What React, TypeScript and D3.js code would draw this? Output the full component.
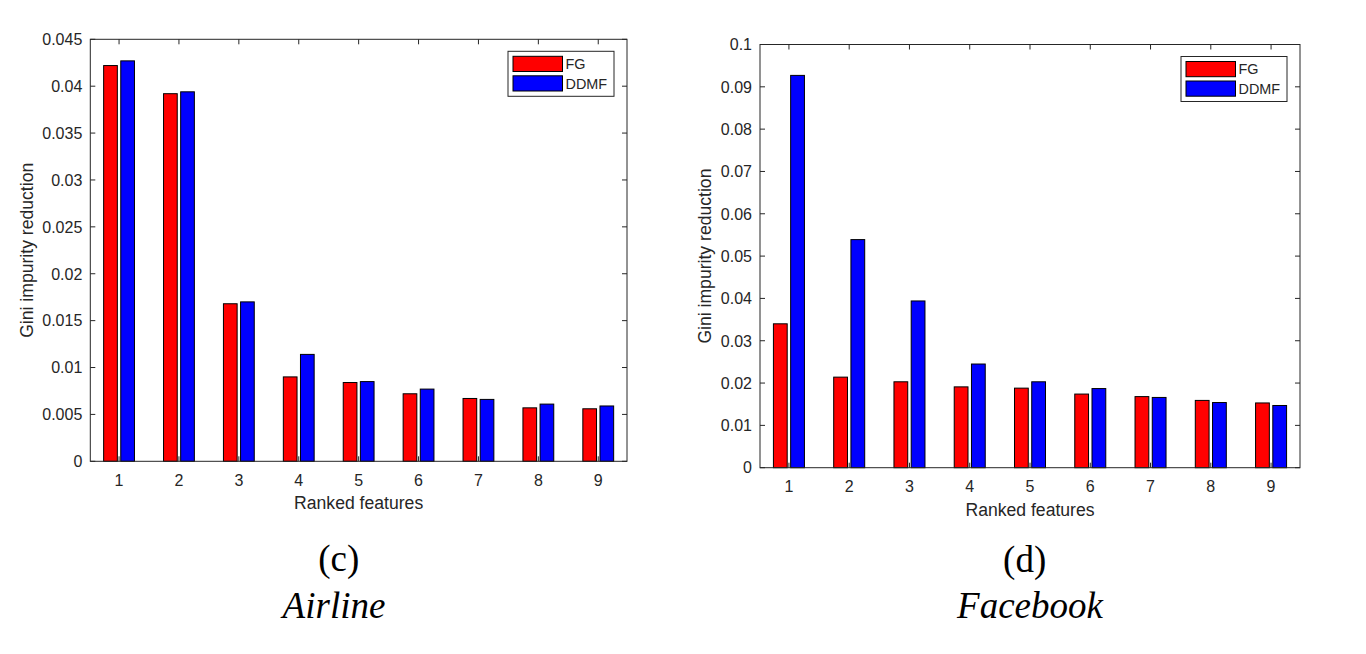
import React from "react";
import * as d3 from "d3";

const features = [1, 2, 3, 4, 5, 6, 7, 8, 9];
const seriesNames = ["FG", "DDMF"];
const seriesColors = ["#ff0000", "#0000ff"];

const airlineFG = [0.0422, 0.0392, 0.0168, 0.009, 0.0084, 0.0072, 0.0067, 0.0057, 0.0056];
const airlineDDMF = [0.0427, 0.0394, 0.017, 0.0114, 0.0085, 0.0077, 0.0066, 0.0061, 0.0059];
const airlineTicks = [0, 0.005, 0.01, 0.015, 0.02, 0.025, 0.03, 0.035, 0.04, 0.045];

const facebookFG = [0.034, 0.0214, 0.0203, 0.0191, 0.0188, 0.0174, 0.0168, 0.0159, 0.0153];
const facebookDDMF = [0.0927, 0.0539, 0.0394, 0.0245, 0.0203, 0.0187, 0.0166, 0.0154, 0.0147];
const facebookTicks = [0, 0.01, 0.02, 0.03, 0.04, 0.05, 0.06, 0.07, 0.08, 0.09, 0.1];

const xLabel = "Ranked features";
const yLabel = "Gini impurity reduction";

const SANS = "'Liberation Sans', Arial, Helvetica, sans-serif";
const SERIF = "'Liberation Serif', 'Times New Roman', serif";
const AXC = "#262626";

type PanelProps = {
  left: number;
  right: number;
  top: number;
  bottom: number;
  yMax: number;
  ticks: number[];
  fg: number[];
  ddmf: number[];
  yLabelX: number;
  caption: string;
  captionX: number;
  captionY: number;
  name: string;
  nameX: number;
  nameY: number;
};

function fmt(v: number) {
  if (v === 0) return "0";
  return String(+v.toFixed(4));
}

function Panel(p: PanelProps) {
  const x = d3.scaleLinear().domain([0.52, 9.48]).range([p.left, p.right]);
  const y = d3.scaleLinear().domain([0, p.yMax]).range([p.bottom, p.top]);
  const step = x(2) - x(1);
  const offset = 0.143;
  const bw = 0.2286;
  const series = [p.fg, p.ddmf];
  const tl = 5;
  const lgW = 106;
  const lgH = 45;
  const lgX = p.right - 13 - lgW;
  const lgY = p.top + 12;
  return (
    <g>
      {/* bars */}
      {series.map((vals, si) =>
        vals.map((v, i) => {
          const cx = x(features[i] + (si === 0 ? -offset : offset));
          const w = bw * step;
          return (
            <rect
              key={`${si}-${i}`}
              x={cx - w / 2}
              y={y(v)}
              width={w}
              height={y(0) - y(v)}
              fill={seriesColors[si]}
              stroke="#000"
              strokeWidth={1}
            />
          );
        })
      )}
      {/* axes box */}
      <rect
        x={p.left}
        y={p.top}
        width={p.right - p.left}
        height={p.bottom - p.top}
        fill="none"
        stroke={AXC}
        strokeWidth={1}
      />
      {/* y ticks */}
      {p.ticks.map((t) => (
        <g key={`y${t}`}>
          <line x1={p.left} x2={p.left + tl} y1={y(t)} y2={y(t)} stroke={AXC} />
          <line x1={p.right} x2={p.right - tl} y1={y(t)} y2={y(t)} stroke={AXC} />
          <text
            x={p.left - 8}
            y={y(t)}
            dy="0.36em"
            textAnchor="end"
            fontFamily={SANS}
            fontSize={16}
            fill={AXC}
          >
            {fmt(t)}
          </text>
        </g>
      ))}
      {/* x ticks */}
      {features.map((f) => (
        <g key={`x${f}`}>
          <line x1={x(f)} x2={x(f)} y1={p.bottom} y2={p.bottom - tl} stroke={AXC} />
          <line x1={x(f)} x2={x(f)} y1={p.top} y2={p.top + tl} stroke={AXC} />
          <text
            x={x(f)}
            y={p.bottom + 24.5}
            textAnchor="middle"
            fontFamily={SANS}
            fontSize={16}
            fill={AXC}
          >
            {f}
          </text>
        </g>
      ))}
      {/* labels */}
      <text
        x={(p.left + p.right) / 2}
        y={p.bottom + 47.8}
        textAnchor="middle"
        fontFamily={SANS}
        fontSize={17.6}
        fill={AXC}
      >
        {xLabel}
      </text>
      <text
        transform={`translate(${p.yLabelX},${(p.top + p.bottom) / 2}) rotate(-90)`}
        textAnchor="middle"
        fontFamily={SANS}
        fontSize={17.6}
        fill={AXC}
      >
        {yLabel}
      </text>
      {/* legend */}
      <rect x={lgX} y={lgY} width={lgW} height={lgH} fill="#fff" stroke={AXC} strokeWidth={1} />
      {seriesNames.map((n, i) => (
        <g key={n}>
          <rect
            x={lgX + 5}
            y={lgY + 5 + i * 19.5}
            width={49.5}
            height={15.2}
            fill={seriesColors[i]}
            stroke="#000"
            strokeWidth={1}
          />
          <text
            x={lgX + 57.5}
            y={lgY + 5 + i * 19.5 + 7.6}
            dy="0.36em"
            fontFamily={SANS}
            fontSize={14.4}
            fill={AXC}
          >
            {n}
          </text>
        </g>
      ))}
      {/* captions */}
      <text x={p.captionX} y={p.captionY} textAnchor="middle" fontFamily={SERIF} fontSize={37} fill="#000">
        {p.caption}
      </text>
      <text
        x={p.nameX}
        y={p.nameY}
        textAnchor="middle"
        fontFamily={SERIF}
        fontStyle="italic"
        fontSize={37}
        fill="#000"
      >
        {p.name}
      </text>
    </g>
  );
}

export default function App() {
  return (
    <svg
      width={1366}
      height={654}
      style={{ position: "absolute", left: 0, top: 0, background: "#fff" }}
    >
      <rect width={1366} height={654} fill="#fff" />
      <Panel
        left={90.3}
        right={627}
        top={39.3}
        bottom={461.3}
        yMax={0.045}
        ticks={airlineTicks}
        fg={airlineFG}
        ddmf={airlineDDMF}
        yLabelX={33.3}
        caption="(c)"
        captionX={338.7}
        captionY={571}
        name="Airline"
        nameX={334}
        nameY={618}
      />
      <Panel
        left={760}
        right={1300}
        top={44.5}
        bottom={467.7}
        yMax={0.1}
        ticks={facebookTicks}
        fg={facebookFG}
        ddmf={facebookDDMF}
        yLabelX={710.6}
        caption="(d)"
        captionX={1024.7}
        captionY={572}
        name="Facebook"
        nameX={1030}
        nameY={618}
      />
    </svg>
  );
}
